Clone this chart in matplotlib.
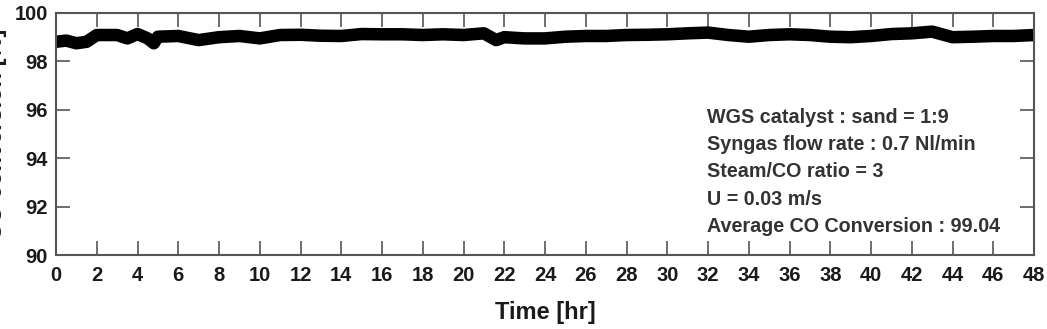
"""
CO conversion over a 48 h water-gas-shift run.
"""
import matplotlib.pyplot as plt
import numpy as np

# Readings taken off the original plot (hr, %)
time_hr = [0, 0.5, 1, 1.5, 2, 3, 3.5, 4, 4.5, 4.8, 5, 6, 7, 8, 9, 10, 11, 12,
           13, 14, 15, 16, 17, 18, 19, 20, 21, 21.6, 22, 23, 24, 25, 26, 27,
           28, 29, 30, 31, 32, 33, 34, 35, 36, 37, 38, 39, 40, 41, 42, 43,
           44, 45, 46, 47, 48]
conversion = [98.81, 98.86, 98.75, 98.81, 99.09, 99.09, 98.95, 99.13, 98.95,
              98.75, 99.02, 99.05, 98.88, 99.00, 99.05, 98.95, 99.09, 99.10,
              99.06, 99.05, 99.13, 99.12, 99.12, 99.09, 99.12, 99.09, 99.16,
              98.88, 99.00, 98.95, 98.95, 99.02, 99.05, 99.05, 99.09, 99.10,
              99.12, 99.16, 99.19, 99.09, 99.02, 99.09, 99.12, 99.09, 99.02,
              99.00, 99.05, 99.13, 99.16, 99.23, 99.00, 99.02, 99.05, 99.05,
              99.09]

notes = ["WGS catalyst : sand = 1:9",
         "Syngas flow rate : 0.7 Nl/min",
         "Steam/CO ratio = 3",
         "U = 0.03 m/s",
         "Average CO Conversion : 99.04"]

plt.rcParams['font.family'] = ['Liberation Sans', 'DejaVu Sans']
plt.rcParams['font.weight'] = 'bold'

fig = plt.figure(figsize=(10.47, 3.29), dpi=100)
ax = fig.add_axes([0.0535, 0.2249, 0.9341, 0.7356])

# thick band, round ends like the original's heavy markers
ax.plot(time_hr, conversion, color='black', lw=9,
        solid_capstyle='round', solid_joinstyle='round')

ax.set_xlim(0, 48)
ax.set_ylim(90, 100)
ax.set_xticks(np.arange(0, 49, 2))
ax.set_yticks(np.arange(90, 101, 2))

for side in ax.spines.values():
    side.set_color('#555555')
    side.set_linewidth(1.5)

ax.tick_params(axis='both', direction='in', top=True, right=True,
               length=10, width=1.2, color='#555555', labelsize=14.5,
               labelcolor='#1a1a1a')
ax.tick_params(axis='x', pad=8)
ax.tick_params(axis='y', pad=6)

ax.set_xlabel("Time [hr]", fontsize=17, fontweight='bold', color='#1a1a1a')
ax.xaxis.set_label_coords(0.5, -0.19)
# the original figure crops most of this label at the left edge
ax.set_ylabel("CO conversion [%]", fontsize=17, fontweight='bold',
              color='#1a1a1a')
ax.yaxis.set_label_coords(-0.05, 0.5)

ax.text(0.666, 0.343, "\n".join(notes), transform=ax.transAxes,
        fontsize=14.2, fontweight='bold', color='#333333', va='center',
        ha='left', linespacing=1.55)

fig.savefig("out.png", dpi=100)
